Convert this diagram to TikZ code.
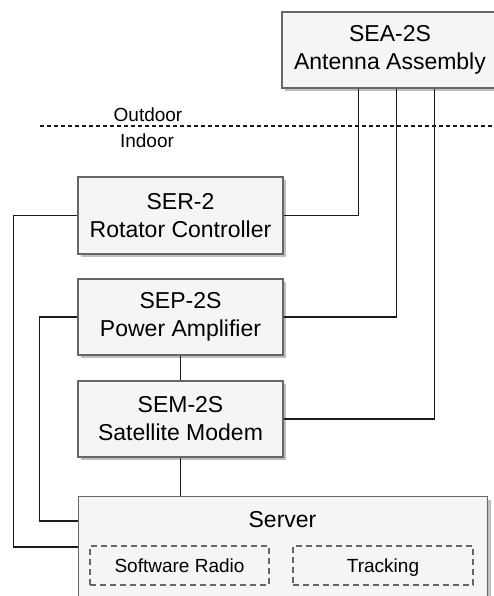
\documentclass[tikz,border=0pt]{standalone}
\usepackage{fontspec}
\setmainfont{Liberation Sans}
\usetikzlibrary{calc,shadows}
\definecolor{boxfill}{HTML}{F5F5F5}
\definecolor{boxline}{HTML}{666666}
\definecolor{wire}{HTML}{1A1A1A}
\tikzset{
  unit/.style={draw=boxline, fill=boxfill, line width=1.1pt, align=center,
    inner sep=0pt, font=\fontsize{23}{28}\selectfont,
    drop shadow={shadow xshift=3pt, shadow yshift=-3pt, fill=black, opacity=0.25}},
  sub/.style={draw=boxline, line width=1.7pt, dash pattern=on 6pt off 4pt,
    inner sep=0pt, text height=18pt, text depth=4pt, font=\fontsize{19}{23}\selectfont},
  wireline/.style={draw=wire, line width=1.2pt},
  lbl/.style={inner sep=0pt, text height=18pt, text depth=4pt, font=\fontsize{19}{23}\selectfont}
}
\begin{document}
\begin{tikzpicture}[x=1pt,y=-1pt]
\clip (0,0) rectangle (494,596);
\fill[white] (0,0) rectangle (494,596);
% outdoor / indoor
\coordinate (dl) at (40,126);
\coordinate (dr) at (494,126);
\draw[wire, line width=1.1pt, dash pattern=on 4pt off 3pt] (dl) -- (dr);
\node[lbl] (out) at (148,115) {Outdoor};
\node[lbl] (in) at (147,141) {Indoor};
% boxes
\node[unit, minimum width=216, minimum height=76] (SEA) at (390,50) {SEA-2S\\Antenna Assembly};
\node[unit, minimum width=205, minimum height=77] (SER) at (180.5,215.5) {SER-2\\Rotator Controller};
\node[unit, minimum width=205, minimum height=76] (SEP) at (180.5,317) {SEP-2S\\Power Amplifier};
\node[unit, minimum width=205, minimum height=76] (SEM) at (180.5,419) {SEM-2S\\Satellite Modem};
\node[unit, minimum width=409, minimum height=120, anchor=north west] (SRV) at (78,496) {};
\node[lbl, font=\fontsize{23}{28}\selectfont, text height=21pt, text depth=5pt] (srvt) at (282.5,519) {Server};
\node[sub, minimum width=179, minimum height=39] (SWR) at (179.5,565.5) {Software Radio};
\node[sub, minimum width=180, minimum height=39] (TRK) at (383,565.5) {Tracking};
% connectors to antenna
\draw[wireline] (SER.east) -| ($(SEA.south west)+(77,0)$);
\draw[wireline] (SEP.east) -| ($(SEA.south west)+(115,0)$);
\draw[wireline] (SEM.east) -| ($(SEA.south west)+(153,0)$);
% chain
\draw[wireline] (SEP.south) -- (SEM.north);
\draw[wireline] (SEM.south) -- (SEM.south |- SRV.north);
% left loops
\draw[wireline] (SER.west) -- ++(-64,0) |- ($(SRV.north west)+(0,51)$);
\draw[wireline] (SEP.west) -- ++(-38,0) |- ($(SRV.north west)+(0,25)$);
\end{tikzpicture}
\end{document}
